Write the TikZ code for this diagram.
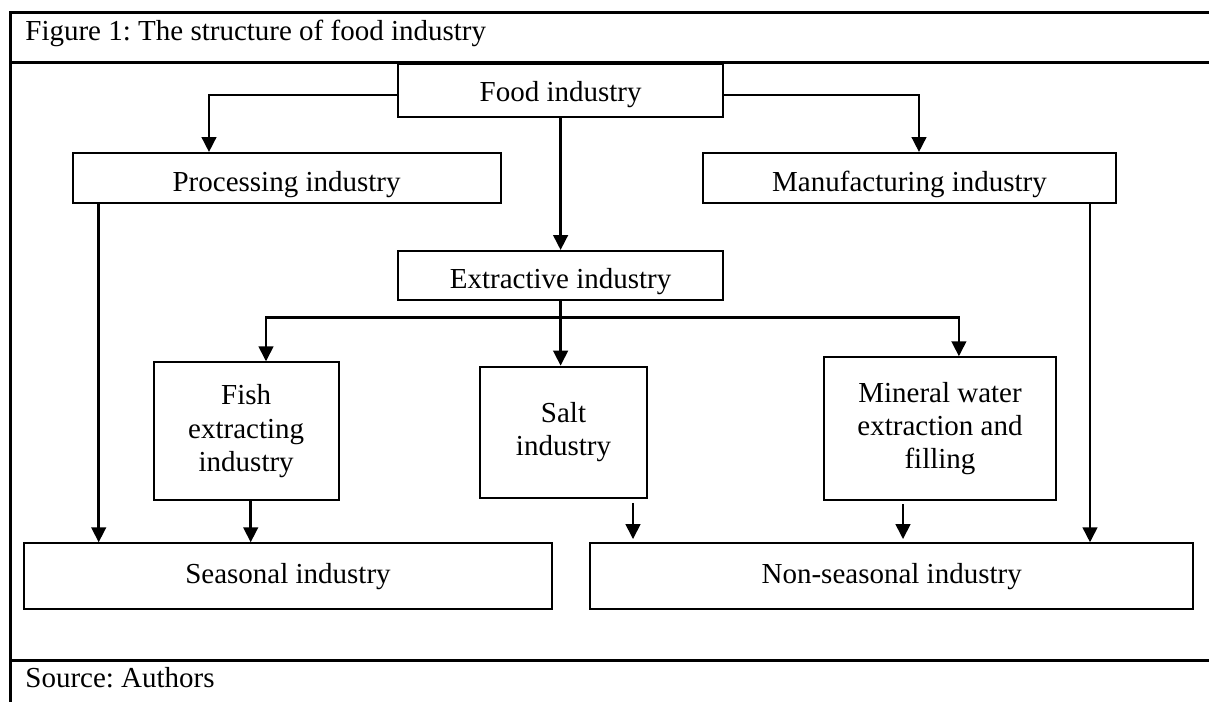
\documentclass[tikz,border=0pt]{standalone}
\usepackage{fontspec}
\setmainfont{Liberation Serif}
\usetikzlibrary{arrows.meta}
\frenchspacing

\begin{document}
\begin{tikzpicture}[x=0.5pt, y=-0.5pt, line join=miter,
  txt/.style={font=\fontsize{14.5}{16.7}\selectfont},
  box/.style={txt, draw, line width=1pt, inner sep=0pt, align=center},
  lowtext/.style={text height=13.5pt, text depth=0pt},
  arr/.style={line width=1.3pt, -{Triangle[length=7.5pt,width=7.3pt]}},
  link/.style={line width=1.3pt},
  frame/.style={line width=1.5pt}]
\useasboundingbox (0,0) rectangle (1209,702);
\draw[frame] (1209,12) -- (10,12) -- (10,702);
\draw[frame] (10,62) -- (1209,62);
\draw[frame] (10,660) -- (1209,660);
\node[txt, anchor=base west, inner sep=0pt] (title) at (25,40) {Figure 1: The structure of food industry};
\node[txt, anchor=base west, inner sep=0pt] (source) at (25,687) {Source: Authors};
\node[box, text height=11pt, text depth=0pt, minimum width=162.75pt, minimum height=26.5pt] (food) at (560.6,90.5) {Food industry};
\node[box, lowtext, minimum width=214pt, minimum height=25pt] (proc) at (286.6,178) {Processing industry};
\node[box, lowtext, minimum width=206.5pt, minimum height=25pt] (manu) at (909.5,178) {Manufacturing industry};
\node[box, text height=13pt, text depth=0pt, minimum width=162.75pt, minimum height=24.5pt] (extr) at (560.6,275.5) {Extractive industry};
\node[box, minimum width=92.5pt, minimum height=68.85pt] (fish) at (246.2,431.2) {Fish\\extracting\\industry};
\node[box, minimum width=83.5pt, minimum height=65.65pt] (salt) at (563.5,432.3) {Salt\\industry};
\node[box, minimum width=116pt, minimum height=71.35pt] (mineral) at (940,428.6) {Mineral water\\extraction and\\filling};
\node[box, minimum width=264.25pt, minimum height=33pt] (seas) at (288,576.3) {Seasonal industry};
\node[box, minimum width=301.25pt, minimum height=33pt] (nons) at (891.7,576.3) {Non-seasonal industry};
\coordinate (fl) at (209,95);
\coordinate (fr) at (919,95);
\coordinate (sp) at (560.6,317.3);
\coordinate (sl) at (266,317.3);
\coordinate (sr) at (958.9,317.3);
\coordinate (dp) at (98.7,543);
\coordinate (df) at (250.7,543);
\coordinate (ds) at (633,540);
\coordinate (dm) at (903,540);
\coordinate (dn) at (1090,543);
\draw[arr] (fl -| food.west) -| (fl |- proc.north);
\draw[arr] (fr -| food.east) -| (fr |- manu.north);
\draw[arr] (food.south) -- (extr.north);
\draw[link] (extr.south) -- (sp);
\draw[arr] (sp) -- (sp |- salt.north);
\draw[arr] (sp) -| (sl |- fish.north);
\draw[arr] (sp) -| (sr |- mineral.north);
\draw[arr] (dp |- proc.south) -- (dp |- seas.north);
\draw[arr] (df |- fish.south) -- (df |- seas.north);
\draw[arr, shorten <=2pt, shorten >=1.6pt] (ds |- salt.south) -- (ds |- nons.north);
\draw[arr, shorten <=1.6pt, shorten >=1.6pt] (dm |- mineral.south) -- (dm |- nons.north);
\draw[arr] (dn |- manu.south) -- (dn |- nons.north);
\end{tikzpicture}
\end{document}
